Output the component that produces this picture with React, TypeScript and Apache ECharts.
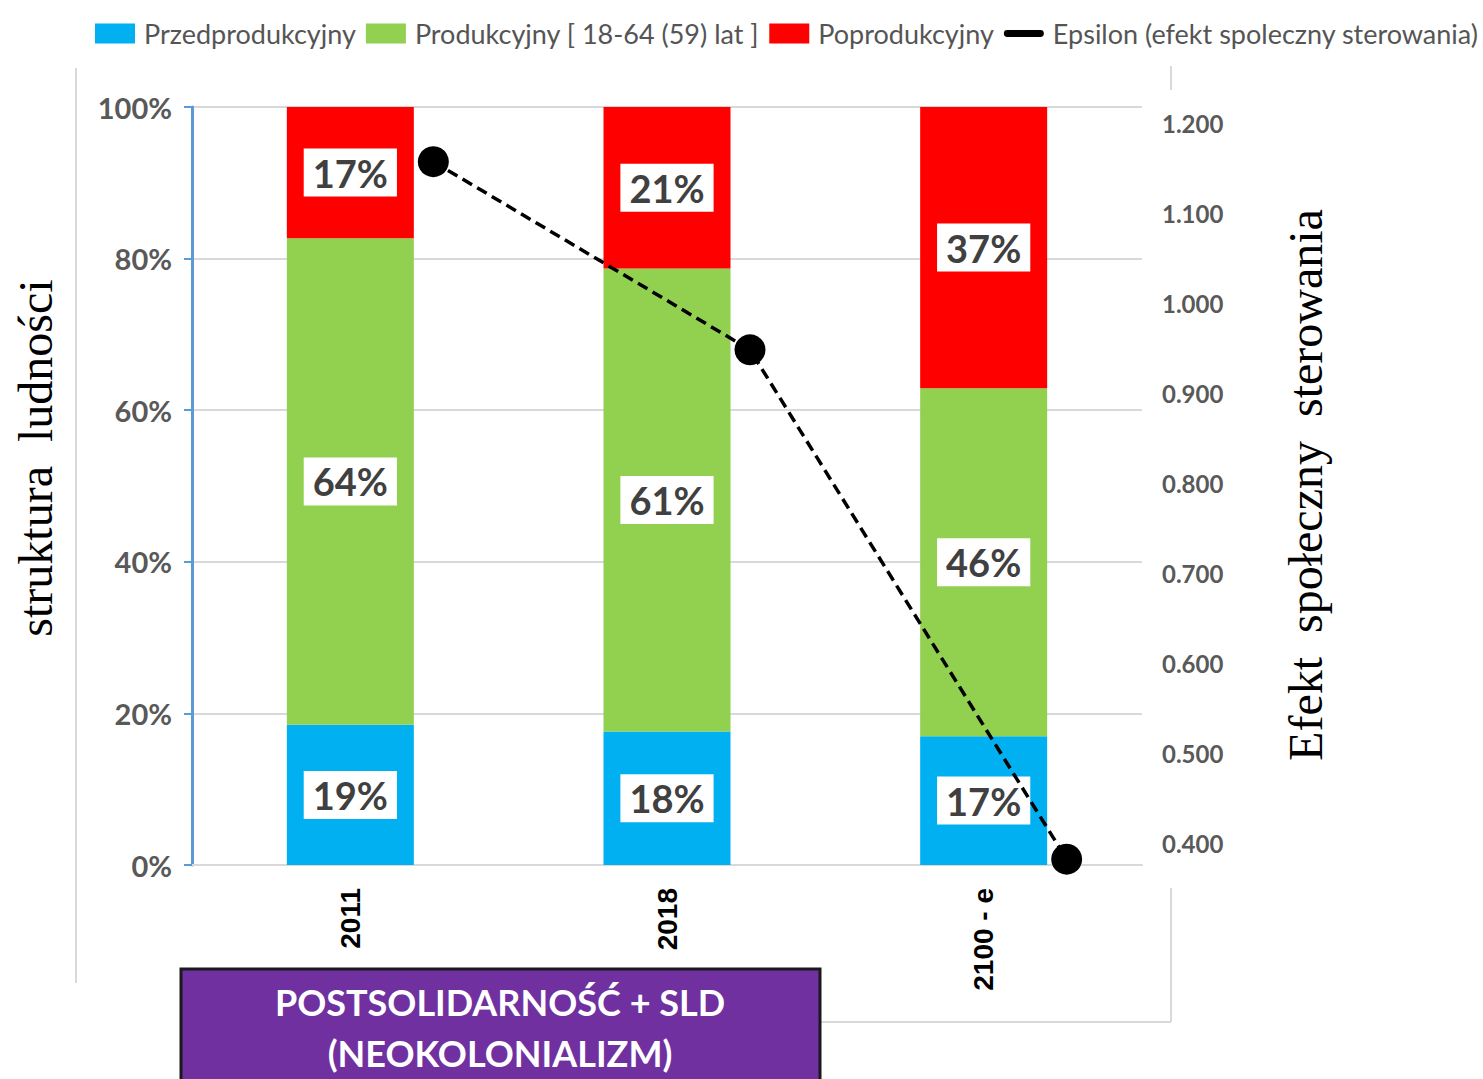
import React, { useEffect, useRef } from "react";
import * as echarts from "echarts";

const categories = ["2011", "2018", "2100 - e"];
const przedprodukcyjny = [18.5, 17.6, 17.0];
const produkcyjny = [64.2, 61.1, 45.9];
const poprodukcyjny = [17.3, 21.3, 37.1];
const epsilon = [1.157, 0.948, 0.382];
const seriesNames = [
  "Przedprodukcyjny",
  "Produkcyjny [ 18-64 (59) lat ]",
  "Poprodukcyjny",
  "Epsilon (efekt spoleczny sterowania)",
];
const leftAxisName = "struktura  ludności";
const rightAxisName = "Efekt  społeczny  sterowania";
const boxLines = ["POSTSOLIDARNOŚĆ + SLD", "(NEOKOLONIALIZM)"];

const W = 1483;
const H = 1079;

export default function App() {
  const ref = useRef<HTMLDivElement>(null);
  useEffect(() => {
    if (!ref.current) return;
    const chart = echarts.init(ref.current, null, { renderer: "svg", width: W, height: H });
    const barLabel = {
      show: true,
      position: "inside",
      backgroundColor: "#ffffff",
      padding: [6, 9, 4, 9],
      color: "#404040",
      fontFamily: "Lato",
      fontWeight: "bold",
      fontSize: 38,
      formatter: (p: any) => Math.round(p.value) + "%",
    };
    const gray = "#d9d9d9";
    const option: any = {
      animation: false,
      backgroundColor: "#ffffff",
      legend: {
        left: 95,
        top: 20,
        width: 1450,
        padding: 0,
        itemWidth: 40,
        itemHeight: 20,
        itemGap: 10,
        textStyle: { fontFamily: "Lato", fontSize: 27, color: "#555555", padding: [0, 0, 0, 4] },
        data: [
          { name: seriesNames[0], icon: "rect" },
          { name: seriesNames[1], icon: "rect" },
          { name: seriesNames[2], icon: "rect" },
          { name: seriesNames[3], icon: "path://M4,0 L42,0 A4,4 0 0 1 42,8 L4,8 A4,4 0 0 1 4,0 Z" },
        ],
      },
      grid: [
        { left: 192, right: W - 1142, top: 107, bottom: H - 865 },
        { left: 275, right: W - 1225, top: 123, bottom: H - 843 },
      ],
      xAxis: [
        {
          type: "category",
          gridIndex: 0,
          data: categories,
          axisLine: { lineStyle: { color: gray, width: 2 } },
          axisTick: { show: true, inside: true, alignWithLabel: true, length: 8, lineStyle: { color: gray, width: 2 } },
          axisLabel: {
            rotate: 90,
            margin: 23,
            color: "#000000",
            fontFamily: "Liberation Sans",
            fontWeight: "bold",
            fontSize: 28,
          },
        },
        {
          type: "category",
          gridIndex: 1,
          data: categories,
          show: false,
        },
      ],
      yAxis: [
        {
          type: "value",
          gridIndex: 0,
          min: 0,
          max: 100,
          interval: 20,
          axisLine: { show: true, lineStyle: { color: "#5b9bd5", width: 3 } },
          axisTick: { show: true, length: 8, lineStyle: { color: "#5b9bd5", width: 2 } },
          splitLine: { lineStyle: { color: gray, width: 2 } },
          axisLabel: {
            formatter: "{value}%",
            margin: 20,
            color: "#595959",
            fontFamily: "Lato",
            fontWeight: "bold",
            fontSize: 29,
          },
        },
        {
          type: "value",
          gridIndex: 1,
          position: "right",
          offset: -71,
          min: 0.4,
          max: 1.2,
          interval: 0.1,
          axisLine: { show: false },
          axisTick: { show: false },
          splitLine: { show: false },
          axisLabel: {
            margin: 8,
            formatter: (v: number) => v.toFixed(3),
            color: "#595959",
            fontFamily: "Lato",
            fontWeight: "bold",
            fontSize: 24,
          },
        },
      ],
      series: [
        {
          name: seriesNames[0],
          type: "bar",
          stack: "total",
          barWidth: 127,
          xAxisIndex: 0,
          yAxisIndex: 0,
          itemStyle: { color: "#00b0f0" },
          label: barLabel,
          data: przedprodukcyjny,
        },
        {
          name: seriesNames[1],
          type: "bar",
          stack: "total",
          barWidth: 127,
          xAxisIndex: 0,
          yAxisIndex: 0,
          itemStyle: { color: "#92d050" },
          label: barLabel,
          data: produkcyjny,
        },
        {
          name: seriesNames[2],
          type: "bar",
          stack: "total",
          barWidth: 127,
          xAxisIndex: 0,
          yAxisIndex: 0,
          itemStyle: { color: "#ff0000" },
          label: barLabel,
          data: poprodukcyjny,
        },
        {
          name: seriesNames[3],
          type: "line",
          xAxisIndex: 1,
          yAxisIndex: 1,
          clip: false,
          z: 10,
          symbol: "circle",
          symbolSize: 31,
          itemStyle: { color: "#000000" },
          lineStyle: { color: "#000000", width: 3.5, type: [11, 6] },
          data: epsilon,
        },
      ],
      graphic: [
        { type: "line", shape: { x1: 76, y1: 68, x2: 76, y2: 983 }, style: { stroke: "#d9d9d9", lineWidth: 2 } },
        { type: "line", shape: { x1: 1171, y1: 66, x2: 1171, y2: 90 }, style: { stroke: "#d9d9d9", lineWidth: 2 } },
        { type: "line", shape: { x1: 1171, y1: 888, x2: 1171, y2: 1022 }, style: { stroke: "#d9d9d9", lineWidth: 2 } },
        { type: "line", shape: { x1: 820, y1: 1022, x2: 1171, y2: 1022 }, style: { stroke: "#d9d9d9", lineWidth: 2 } },
        {
          type: "text",
          x: 35,
          y: 458,
          rotation: Math.PI / 2,
          style: {
            text: leftAxisName,
            fontFamily: "Liberation Serif",
            fontSize: 48,
            fill: "#000000",
            align: "center",
            verticalAlign: "middle",
          },
        },
        {
          type: "text",
          x: 1305,
          y: 485,
          rotation: Math.PI / 2,
          style: {
            text: rightAxisName,
            fontFamily: "Liberation Serif",
            fontSize: 48,
            fill: "#000000",
            align: "center",
            verticalAlign: "middle",
          },
        },
        {
          type: "rect",
          shape: { x: 181, y: 969, width: 639, height: 120 },
          style: { fill: "#7030a0", stroke: "#1a1a1a", lineWidth: 3 },
        },
        {
          type: "text",
          x: 500,
          y: 1002,
          style: {
            text: boxLines[0],
            fontFamily: "Lato",
            fontWeight: "bold",
            fontSize: 36,
            fill: "#ffffff",
            align: "center",
            verticalAlign: "middle",
          },
        },
        {
          type: "text",
          x: 500,
          y: 1053,
          style: {
            text: boxLines[1],
            fontFamily: "Lato",
            fontWeight: "bold",
            fontSize: 36,
            fill: "#ffffff",
            align: "center",
            verticalAlign: "middle",
          },
        },
      ],
    };
    chart.setOption(option);
    return () => chart.dispose();
  }, []);
  return (
    <div
      ref={ref}
      style={{ position: "fixed", left: 0, top: 0, width: W, height: H, background: "#fff" }}
    />
  );
}
